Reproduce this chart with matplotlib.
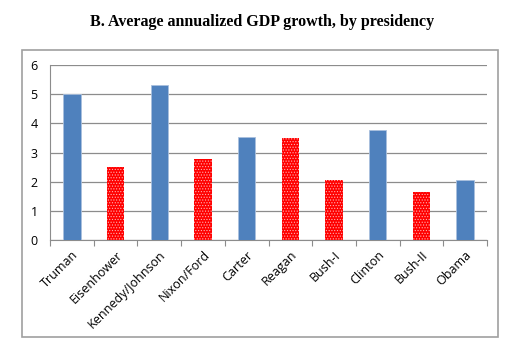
import matplotlib.pyplot as plt
from matplotlib.patches import Rectangle

presidents = ["Truman", "Eisenhower", "Kennedy/Johnson", "Nixon/Ford", "Carter",
              "Reagan", "Bush-I", "Clinton", "Bush-II", "Obama"]
gdp_growth = [5.02, 2.50, 5.33, 2.78, 3.55, 3.50, 2.07, 3.77, 1.65, 2.05]
party = ["D", "R", "D", "R", "D", "R", "R", "D", "R", "D"]

plt.rcParams['hatch.linewidth'] = 0.5

fig = plt.figure(figsize=(5.27, 3.46), dpi=100)
ax = fig.add_axes([0.095, 0.306, 0.829, 0.506])

x = range(len(presidents))
for i, (val, p) in enumerate(zip(gdp_growth, party)):
    if p == "D":
        ax.bar(i, val, width=0.4, color="#4f81bd", edgecolor="#a9c0de",
               linewidth=0.6, zorder=3)
    else:
        ax.bar(i, val, width=0.4, color="#ff0000", edgecolor="#ffb0b0",
               hatch="......", linewidth=0, zorder=3)

ax.set_xlim(-0.5, len(presidents) - 0.5)
ax.set_ylim(0, 6)
ax.set_yticks(range(0, 7))
ax.yaxis.grid(True, color="#8c8c8c", linewidth=0.9, zorder=0)
ax.tick_params(axis="y", length=0, labelsize=9, pad=9)

# category ticks sit between bars
ax.set_xticks([i + 0.5 for i in range(-1, len(presidents))], minor=False)
ax.set_xticklabels([])
ax.set_xticks(list(x), minor=True)
ax.set_xticklabels(presidents, minor=True, rotation=45, ha="right",
                   rotation_mode="anchor", fontsize=9)
ax.tick_params(axis="x", which="major", length=4, color="#8c8c8c", direction="out")
ax.tick_params(axis="x", which="minor", length=0, pad=6)

for side in ["top", "right"]:
    ax.spines[side].set_visible(False)
ax.spines["left"].set_color("#8c8c8c")
ax.spines["bottom"].set_color("#8c8c8c")

for lbl in ax.get_xticklabels(minor=True) + ax.get_yticklabels():
    lbl.set_family("Open Sans")

# frame around the chart area
fig.patches.append(Rectangle((22 / 527, 1 - 337 / 346), 476 / 527, 287 / 346,
                             transform=fig.transFigure, fill=False,
                             edgecolor="#a0a0a0", linewidth=1.2))

fig.text(0.497, 0.935, "B. Average annualized GDP growth, by presidency",
         ha="center", va="center", fontsize=11.5, fontweight="bold",
         family="Liberation Serif")

fig.savefig("out.png", dpi=100)
